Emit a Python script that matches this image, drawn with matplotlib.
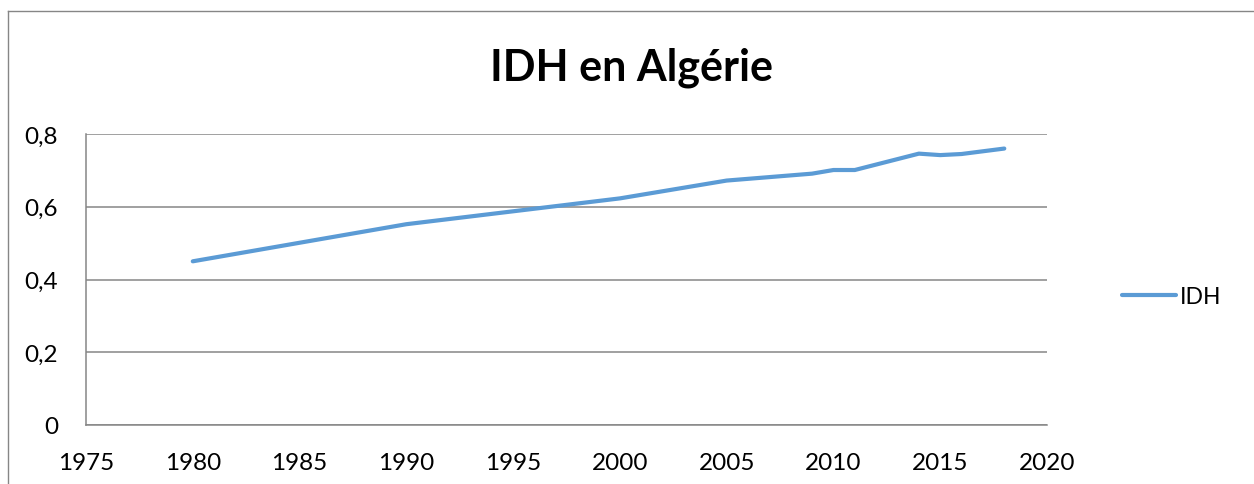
import matplotlib
matplotlib.use("Agg")
import matplotlib.pyplot as plt
from matplotlib.lines import Line2D
from matplotlib.ticker import FuncFormatter, MultipleLocator

years = [1980, 1990, 2000, 2005, 2009, 2010, 2011, 2014, 2015, 2016, 2018]
idh = [0.450, 0.552, 0.623, 0.672, 0.691, 0.701, 0.701, 0.746, 0.742, 0.745, 0.760]
series_name = "IDH"
title = "IDH en Algérie"

plt.rcParams['font.family'] = ['Lato', 'DejaVu Sans']

W, H = 1254, 485
fig = plt.figure(figsize=(W / 100, H / 100), dpi=100)
ax = fig.add_axes([86 / W, 1 - 426 / H, (1047 - 86) / W, (426 - 135) / H])

grey = "#868686"
ax.plot(years, idh, color="#5B9BD5", lw=3.0, solid_capstyle="round", label=series_name)

ax.set_xlim(1975, 2020)
ax.set_ylim(0, 0.8)
ax.xaxis.set_major_locator(MultipleLocator(5))
ax.yaxis.set_major_locator(MultipleLocator(0.2))
ax.yaxis.set_major_formatter(FuncFormatter(lambda v, p: "0" if abs(v) < 1e-9 else f"{v:.1f}".replace(".", ",")))
ax.grid(axis="y", color=grey, lw=1.1)
ax.set_axisbelow(True)
for s in ["top", "right"]:
    ax.spines[s].set_visible(False)
for s in ["left", "bottom"]:
    ax.spines[s].set_color(grey)
    ax.spines[s].set_linewidth(1.1)
ax.tick_params(axis="both", length=0, labelsize=17.5, colors="black")
ax.tick_params(axis="y", pad=20)
ax.tick_params(axis="x", pad=19.5)

fig.text(632 / W, 1 - 68 / H, title, ha="center", va="center", fontsize=31, fontweight="bold")

leg = fig.legend(handles=[Line2D([], [], color="#5B9BD5", lw=3.0, solid_capstyle="round")],
                 labels=[series_name], loc="center left",
                 bbox_to_anchor=(1122 / W, 1 - 298 / H), frameon=False, fontsize=16.5,
                 handlelength=2.35, handletextpad=0.17, borderpad=0, borderaxespad=0)

# outer chart frame (top & left visible)
fig.add_artist(Line2D([8 / W, 1], [1 - 12 / H, 1 - 12 / H], color=grey, lw=1.0, transform=fig.transFigure))
fig.add_artist(Line2D([8 / W, 8 / W], [0, 1 - 12 / H], color=grey, lw=1.0, transform=fig.transFigure))

fig.savefig("out.png", dpi=100)
